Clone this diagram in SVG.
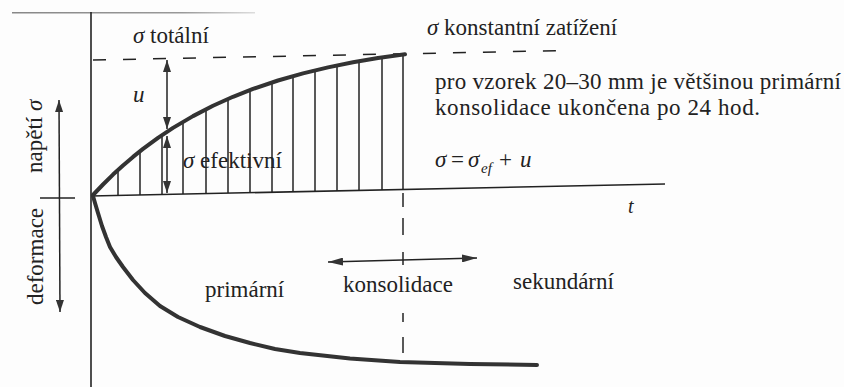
<svg xmlns="http://www.w3.org/2000/svg" width="844" height="387" viewBox="0 0 844 387">
<defs>
<style>
.t{font-family:"Liberation Serif","Times New Roman",serif;font-size:23px;fill:#222}
.i{font-style:italic}
.ax{stroke:#222;stroke-width:1.6;fill:none}
.h{stroke:#222;stroke-width:1.5}
.crv{stroke:#333;stroke-width:4;fill:none;stroke-linejoin:round;stroke-linecap:round}
.arr{stroke:#222;stroke-width:1.5;fill:none}
</style>
<linearGradient id="fade" x1="0" y1="0" x2="1" y2="0">
<stop offset="0" stop-color="#888"/>
<stop offset="0.7" stop-color="#999"/>
<stop offset="1" stop-color="#ddd"/>
</linearGradient>
<marker id="ah" viewBox="0 0 12 8" refX="12" refY="4" markerWidth="12" markerHeight="8" markerUnits="userSpaceOnUse" orient="auto-start-reverse">
<path d="M0,0 L12,4 L0,8 z" fill="#333"/>
</marker>
<marker id="ah2" viewBox="0 0 15 8" refX="15" refY="4" markerWidth="15" markerHeight="8" markerUnits="userSpaceOnUse" orient="auto-start-reverse">
<path d="M0,0 L15,4 L0,8 z" fill="#333"/>
</marker>
</defs>
<rect width="844" height="387" fill="#fdfdfd"/>

<g id="frame">
<rect x="12" y="12" width="243" height="1.5" fill="url(#fade)"/>
<line class="ax" x1="91" y1="12" x2="91" y2="387"/>
<line class="ax" x1="91" y1="196" x2="665" y2="184"/>
<line class="ax" x1="40" y1="198" x2="75" y2="198"/>
</g>

<g id="connectors">
<line class="arr" x1="59" y1="100" x2="60" y2="312" marker-start="url(#ah)" marker-end="url(#ah)"/>
<line class="arr" x1="167" y1="60" x2="167" y2="129" marker-start="url(#ah)" marker-end="url(#ah)"/>
<line class="arr" x1="167" y1="136" x2="167" y2="193" marker-start="url(#ah)" marker-end="url(#ah)"/>
<line class="arr" x1="328" y1="262" x2="477" y2="258" marker-start="url(#ah2)" marker-end="url(#ah2)"/>
</g>

<g id="total-line">
<line x1="93" y1="60" x2="567" y2="50.5" stroke="#222" stroke-width="1.5" stroke-dasharray="13 17"/>
</g>

<g id="hatch" class="h">
<line x1="118" y1="171" x2="118" y2="195.4"/>
<line x1="140" y1="152" x2="140" y2="195"/>
<line x1="162" y1="136" x2="162" y2="194.5"/>
<line x1="183" y1="123" x2="183" y2="194.1"/>
<line x1="206" y1="110" x2="206" y2="193.6"/>
<line x1="228" y1="100" x2="228" y2="193.1"/>
<line x1="250" y1="91" x2="250" y2="192.7"/>
<line x1="272" y1="83" x2="272" y2="192.2"/>
<line x1="293" y1="77" x2="293" y2="191.8"/>
<line x1="315" y1="71" x2="315" y2="191.3"/>
<line x1="337" y1="66" x2="337" y2="190.9"/>
<line x1="359" y1="62" x2="359" y2="190.4"/>
<line x1="382" y1="58" x2="382" y2="189.9"/>
<line x1="403" y1="55" x2="403" y2="189.5"/>
</g>

<g id="end-dashes" class="h">
<line x1="403" y1="193" x2="403" y2="207"/>
<line x1="403" y1="218" x2="403" y2="235"/>
<line x1="403" y1="252" x2="403" y2="265"/>
<line x1="403" y1="313" x2="403" y2="322"/>
<line x1="403" y1="337" x2="403" y2="353"/>
</g>

<g id="effective-curve">
<polyline class="crv" points="93,195 103,184.5 113,174.6 123,165.5 133,156.9 143,148.9 158,137.8 173,127.9 193,116.1 213,105.8 233,96.8 253,88.9 278,80.5 303,73.4 328,67.4 353,62.3 378,58 405,54.2"/>
</g>

<g id="deformation-curve">
<polyline class="crv" points="93,196 95,203 98,213 102,226 106,237 110,247 116,257 123,267 133,280 145,293 160,306 178,317 200,327 225,336 250,343 275,349 300,353 350,358.5 400,362 470,364 537,365"/>
</g>

<g id="labels">
<text class="t" x="133" y="43"><tspan class="i">σ</tspan> totální</text>
<text class="t" x="427" y="35"><tspan class="i">σ</tspan> konstantní zatížení</text>
<text class="t" x="435" y="89" textLength="406" lengthAdjust="spacing">pro vzorek 20–30 mm je většinou primární</text>
<text class="t" x="435" y="115" textLength="325" lengthAdjust="spacing">konsolidace ukončena po 24 hod.</text>
<text class="t i" x="133" y="102">u</text>
<text class="t" x="183" y="168"><tspan class="i">σ</tspan> efektivní</text>
<g id="equation">
<text class="t i" x="435" y="167">σ</text>
<text class="t" x="451" y="167">=</text>
<text class="t i" x="468" y="167">σ</text>
<text class="t i" x="481" y="173" style="font-size:15px">ef</text>
<text class="t" x="499" y="167">+</text>
<text class="t i" x="520" y="167">u</text>
</g>
<text class="t i" x="628" y="213" style="font-size:20px">t</text>
<text class="t" x="205" y="297">primární</text>
<text class="t" x="343" y="292">konsolidace</text>
<text class="t" x="513" y="289">sekundární</text>
<text class="t" transform="translate(42,173) rotate(-90)">napětí <tspan class="i">σ</tspan></text>
<text class="t" transform="translate(43,305) rotate(-90)">deformace</text>
</g>
</svg>
